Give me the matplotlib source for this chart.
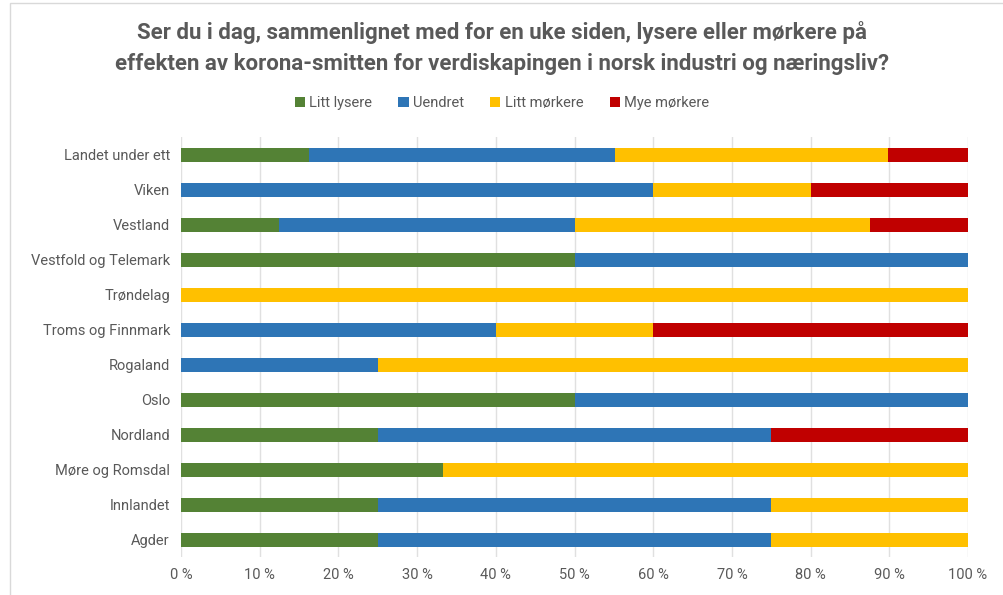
import matplotlib.pyplot as plt
import numpy as np
from matplotlib.patches import Rectangle

categories = ["Landet under ett", "Viken", "Vestland", "Vestfold og Telemark",
              "Trøndelag", "Troms og Finnmark", "Rogaland", "Oslo", "Nordland",
              "Møre og Romsdal", "Innlandet", "Agder"]
litt_lysere  = [16.3, 0, 12.5, 50, 0, 0, 0, 50, 25, 33.3, 25, 25]
uendret      = [38.8, 60, 37.5, 50, 0, 40, 25, 50, 50, 0, 50, 50]
litt_morkere = [34.7, 20, 37.5, 0, 100, 20, 75, 0, 0, 66.7, 25, 25]
mye_morkere  = [10.2, 20, 12.5, 0, 0, 40, 0, 0, 25, 0, 0, 0]
series_names = ["Litt lysere", "Uendret", "Litt mørkere", "Mye mørkere"]
colors = ["#548235", "#2E75B6", "#FFC000", "#C00000"]

plt.rcParams['font.family'] = ['Roboto', 'DejaVu Sans']

fig = plt.figure(figsize=(10.04, 5.95), dpi=100)
ax = fig.add_axes([181/1004, 1 - 557/595, (968-181)/1004, (557-137)/595])

y = np.arange(len(categories))
left = np.zeros(len(categories))
for name, vals, c in zip(series_names, [litt_lysere, uendret, litt_morkere, mye_morkere], colors):
    vals = np.array(vals)
    ax.barh(y, vals, left=left, height=0.4, color=c, label=name, zorder=3)
    left += vals

ax.set_xlim(0, 100)
ax.set_ylim(len(categories) - 0.5, -0.5)
ax.set_yticks(y)
ax.set_yticklabels(categories, fontsize=10.5, color="#595959")
ax.set_xticks(np.arange(0, 101, 10))
ax.set_xticklabels([f"{v} %" for v in range(0, 101, 10)], fontsize=10.5, color="#595959")
ax.tick_params(axis="both", length=0, pad=8)
ax.grid(axis="x", color="#E0E0E0", linewidth=1, zorder=0)
for s in ax.spines.values():
    s.set_visible(False)

fig.text(0.5, 1 - 48/595,
         "Ser du i dag, sammenlignet med for en uke siden, lysere eller mørkere på\n"
         "effekten av korona-smitten for verdiskapingen i norsk industri og næringsliv?",
         ha="center", va="center", fontsize=16, fontweight="bold", color="#595959",
         linespacing=1.5)

fig.legend(loc="center", bbox_to_anchor=(0.5, 1 - 103/595), ncol=4, frameon=False,
           fontsize=10.5, handlelength=0.7, handleheight=0.7, handletextpad=0.3,
           columnspacing=1.8, labelcolor="#595959")

fig.patches.append(Rectangle((10/1004, -0.01), 1.0, 1 - 3/595 + 0.01,
                             transform=fig.transFigure, fill=False,
                             edgecolor="#D9D9D9", linewidth=1))

fig.savefig("out.png", dpi=100)
